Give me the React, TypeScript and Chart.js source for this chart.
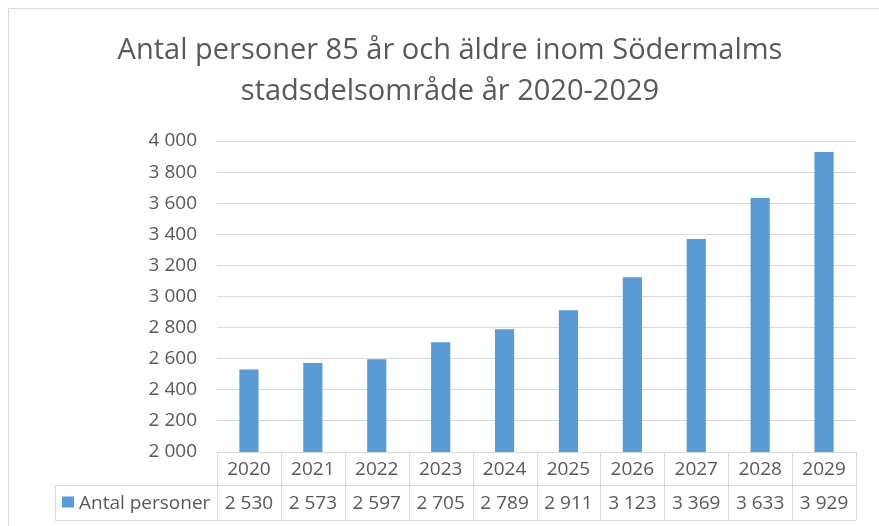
import React, { useEffect, useRef } from "react";
import { Chart, registerables } from "chart.js";

Chart.register(...registerables);

const titleLines = ["Antal personer 85 år och äldre inom Södermalms", "stadsdelsområde år 2020-2029"];
const categories = ["2020", "2021", "2022", "2023", "2024", "2025", "2026", "2027", "2028", "2029"];
const seriesName = "Antal personer";
const values = [2530, 2573, 2597, 2705, 2789, 2911, 3123, 3369, 3633, 3929];
const yMin = 2000;
const yMax = 4000;
const yStep = 200;

const TEXT = "#595959";
const GRID = "#d9d9d9";
const BAR = "#5B9BD5";
const FONT = "'Open Sans', 'Noto Sans', sans-serif";

const fmt = (v: number) => {
  const s = String(Math.round(v));
  return s.replace(/\B(?=(\d{3})+(?!\d))/g, " ");
};

const decorPlugin = {
  id: "decor",
  afterDraw(chart: any) {
    const ctx = chart.ctx;
    const area = chart.chartArea;
    const xs = chart.scales.x;
    ctx.save();
    // outer frame
    ctx.strokeStyle = GRID;
    ctx.lineWidth = 1;
    ctx.beginPath();
    ctx.moveTo(8.5, 600);
    ctx.lineTo(8.5, 8.5);
    ctx.lineTo(900, 8.5);
    ctx.stroke();

    // title
    ctx.fillStyle = TEXT;
    ctx.font = `29px ${FONT}`;
    ctx.textAlign = "center";
    ctx.textBaseline = "middle";
    ctx.fillText(titleLines[0], 450, 51);
    ctx.fillText(titleLines[1], 450, 92);

    // data table
    const n = categories.length;
    const colW = (area.right - area.left) / n;
    const top = area.bottom;
    const mid = top + 33;
    const bot = top + 68;
    const tableLeft = 55;
    ctx.strokeStyle = GRID;
    ctx.beginPath();
    ctx.moveTo(area.left, Math.round(top) + 0.5);
    ctx.lineTo(area.right, Math.round(top) + 0.5);
    ctx.moveTo(tableLeft, Math.round(mid) + 0.5);
    ctx.lineTo(area.right, Math.round(mid) + 0.5);
    ctx.moveTo(tableLeft, Math.round(bot) + 0.5);
    ctx.lineTo(area.right, Math.round(bot) + 0.5);
    for (let i = 0; i <= n; i++) {
      const x = Math.round(area.left + i * colW) + 0.5;
      ctx.moveTo(x, top);
      ctx.lineTo(x, bot);
    }
    ctx.moveTo(tableLeft + 0.5, mid);
    ctx.lineTo(tableLeft + 0.5, bot);
    ctx.stroke();

    ctx.fillStyle = TEXT;
    ctx.font = `19px ${FONT}`;
    ctx.textAlign = "center";
    ctx.textBaseline = "middle";
    for (let i = 0; i < n; i++) {
      const cx = xs.getPixelForValue(i);
      ctx.fillText(categories[i], cx, (top + mid) / 2 + 1);
      ctx.fillText(fmt(values[i]), cx, (mid + bot) / 2 + 1);
    }
    // legend key
    ctx.fillStyle = BAR;
    ctx.fillRect(62, (mid + bot) / 2 - 6, 12, 11);
    ctx.fillStyle = TEXT;
    ctx.textAlign = "left";
    ctx.fillText(seriesName, 79, (mid + bot) / 2 + 1);
    ctx.restore();
  },
};

export default function App() {
  const ref = useRef<HTMLCanvasElement | null>(null);
  useEffect(() => {
    if (!ref.current) return;
    const chart = new Chart(ref.current, {
      type: "bar",
      data: {
        labels: categories,
        datasets: [
          {
            label: seriesName,
            data: values,
            backgroundColor: BAR,
            borderWidth: 0,
            barPercentage: 0.6,
            categoryPercentage: 0.5,
          },
        ],
      },
      options: {
        responsive: false,
        animation: false,
        layout: { padding: { left: 0, right: 23, top: 141, bottom: 74 } },
        plugins: { legend: { display: false }, title: { display: false }, tooltip: { enabled: false } },
        scales: {
          x: { display: false, offset: true, grid: { display: false } },
          y: {
            min: yMin,
            max: yMax,
            afterFit: (s: any) => {
              s.width = 217;
            },
            border: { display: false },
            grid: { color: GRID, lineWidth: 1, drawTicks: false },
            ticks: {
              stepSize: yStep,
              padding: 20,
              color: TEXT,
              font: { family: FONT, size: 19 },
              callback: (v: any) => fmt(Number(v)),
            },
          },
        },
      },
      plugins: [decorPlugin],
    });
    return () => chart.destroy();
  }, []);
  return (
    <div style={{ position: "absolute", left: 0, top: 0, width: 879, height: 526, background: "#fff" }}>
      <canvas ref={ref} width={879} height={526} style={{ display: "block" }} />
    </div>
  );
}
